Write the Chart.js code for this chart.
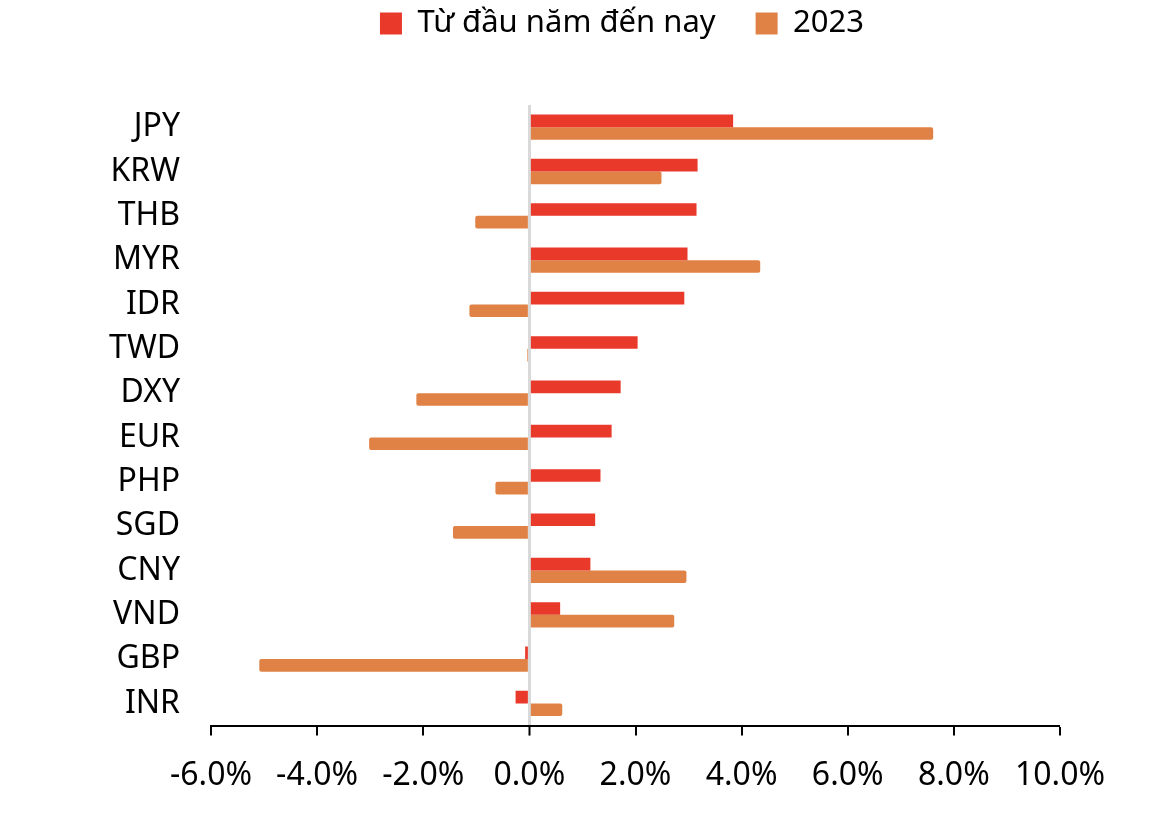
<!DOCTYPE html>
<html>
<head>
<meta charset="utf-8">
<script src="https://cdn.jsdelivr.net/npm/chart.js@4/dist/chart.umd.min.js"></script>
<style>
  html, body { margin: 0; padding: 0; background: #fff; }
  #wrap { width: 1174px; height: 822px; }
</style>
</head>
<body>
<div id="wrap"><canvas id="fxChart"></canvas></div>
<script>
// data (% change vs USD)
const currencies = ['JPY', 'KRW', 'THB', 'MYR', 'IDR', 'TWD', 'DXY', 'EUR', 'PHP', 'SGD', 'CNY', 'VND', 'GBP', 'INR'];
const ytdValues = [3.84, 3.17, 3.15, 2.98, 2.92, 2.04, 1.72, 1.55, 1.34, 1.24, 1.15, 0.58, -0.08, -0.26];
const y2023Values = [7.61, 2.49, -1.02, 4.35, -1.13, -0.04, -2.13, -3.02, -0.64, -1.44, 2.96, 2.73, -5.09, 0.62];
const seriesNames = ['Từ đầu năm đến nay', '2023'];
const xTicks = [-6, -4, -2, 0, 2, 4, 6, 8, 10];

const fontFamily = '"Noto Sans", "Open Sans", sans-serif';

// push the plot down under the legend and move the legend right, like the original
const legendSpace = {
  id: 'legendSpace',
  afterInit(chart) {
    const fit = chart.legend.fit;
    chart.legend.fit = function () {
      fit.call(this);
      this.height += 56;
    };
  },
  afterLayout(chart) {
    const shift = (chart.width - chart.legend.right) / 2 + 35;
    chart.legend.left += shift;
    chart.legend.right += shift;
  }
};

const ctx = document.getElementById('fxChart').getContext('2d');
const fxChart = new Chart(ctx, {
  type: 'bar',
  data: {
    labels: currencies,
    datasets: [{
      label: seriesNames[0],
      data: ytdValues,
      backgroundColor: '#e8392a',
      categoryPercentage: 0.57,
      barPercentage: 1.0
    }, {
      label: seriesNames[1],
      data: y2023Values,
      backgroundColor: '#e08246',
      borderRadius: 2,
      borderSkipped: 'start',
      categoryPercentage: 0.57,
      barPercentage: 1.0
    }]
  },
  options: {
    indexAxis: 'y',
    responsive: true,
    maintainAspectRatio: false,
    animation: false,
    layout: { padding: { left: 0, right: 114, top: -32, bottom: 6 } },
    plugins: {
      legend: {
        position: 'top',
        labels: {
          color: '#000',
          font: { family: fontFamily, size: 31 },
          boxWidth: 22,
          boxHeight: 22,
          padding: 40
        }
      },
      tooltip: { enabled: false }
    },
    scales: {
      x: {
        min: -6,
        max: 10,
        afterBuildTicks: function (scale) {
          scale.ticks = xTicks.map(v => ({ value: v }));
        },
        ticks: {
          color: '#000',
          font: { family: fontFamily, size: 32 },
          padding: 21,
          maxRotation: 0,
          callback: v => v.toFixed(1) + '%'
        },
        grid: {
          color: c => (c.tick && c.tick.value === 0) ? '#d9d9d9' : 'rgba(0,0,0,0)',
          lineWidth: c => (c.tick && c.tick.value === 0) ? 3 : 0,
          tickColor: '#000',
          tickWidth: 2,
          tickLength: 10
        },
        border: { color: '#000', width: 2 }
      },
      y: {
        afterFit: function (scale) { scale.width = 211; },
        ticks: {
          color: '#000',
          font: { family: fontFamily, size: 32 },
          padding: 31
        },
        grid: { display: false, drawTicks: false },
        border: { display: false }
      }
    }
  },
  plugins: [legendSpace]
});
</script>
</body>
</html>
